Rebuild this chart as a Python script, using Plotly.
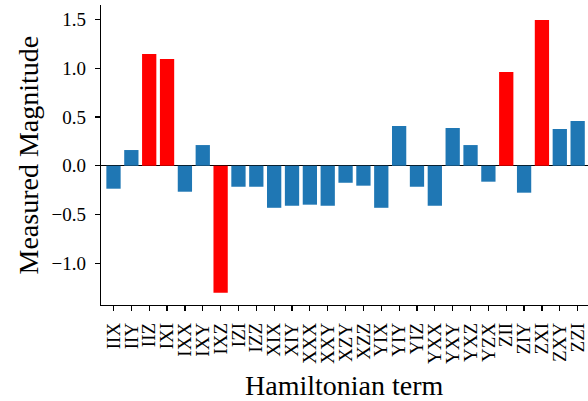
import plotly.graph_objects as go

terms = ["IIX", "IIY", "IIZ", "IXI", "IXX", "IXY", "IXZ", "IZI", "IZZ", "XIX", "XIY",
         "XXX", "XXY", "XZY", "XZZ", "YIX", "YIY", "YIZ", "YXX", "YXY", "YXZ", "YZX",
         "ZII", "ZIY", "ZXI", "ZXY", "ZZI"]
values = [-0.236, 0.161, 1.147, 1.096, -0.267, 0.212, -1.305, -0.216, -0.216, -0.432, -0.411,
          -0.40, -0.411, -0.175, -0.205, -0.432, 0.408, -0.216, -0.411, 0.387, 0.212, -0.164,
          0.962, -0.277, 1.497, 0.377, 0.459]
highlight = ["IIZ", "IXI", "IXZ", "ZII", "ZXI"]
ytick_vals = [-1.0, -0.5, 0.0, 0.5, 1.0, 1.5]
ytick_text = ["\u22121.0", "\u22120.5", "0.0", "0.5", "1.0", "1.5"]

colors = ["#ff0000" if t in highlight else "#1f77b4" for t in terms]
xpos = list(range(len(terms)))

FONT = "Liberation Serif"

fig = go.Figure(go.Bar(x=xpos, y=values, marker=dict(color=colors, line=dict(width=0)),
                       width=0.8, hoverinfo="skip"))

fig.update_layout(
    width=588, height=401,
    margin=dict(l=101, r=0, t=5, b=96, autoexpand=False),
    plot_bgcolor="white", paper_bgcolor="white",
    font=dict(family=FONT, size=19, color="black"),
    showlegend=False,
    hovermode=False,
    annotations=[
        dict(text="Hamiltonian term", xref="paper", yref="paper", x=0.5, y=-0.268,
             xanchor="center", yanchor="middle", showarrow=False,
             font=dict(family=FONT, size=28, color="black")),
        dict(text="Measured Magnitude", xref="paper", yref="paper", x=-0.1489, y=0.5,
             xanchor="center", yanchor="middle", showarrow=False, textangle=-90,
             font=dict(family=FONT, size=28, color="black")),
    ],
)
fig.update_xaxes(
    range=[-0.7, 26.58],
    tickmode="array", tickvals=xpos, ticktext=terms, tickangle=-90,
    ticks="outside", ticklen=5, tickwidth=1.2, tickcolor="black",
    ticklabelstandoff=4,
    showline=True, linecolor="black", linewidth=1.3,
    showgrid=False, zeroline=False,
    tickfont=dict(family=FONT, size=19),
)
fig.update_yaxes(
    range=[-1.43, 1.65],
    tickmode="array", tickvals=ytick_vals, ticktext=ytick_text,
    ticks="outside", ticklen=5, tickwidth=1.2, tickcolor="black",
    ticklabelstandoff=5,
    showline=True, linecolor="black", linewidth=1.3,
    showgrid=False,
    zeroline=True, zerolinecolor="black", zerolinewidth=1.2,
    layer="above traces",
    tickfont=dict(family=FONT, size=19),
)

fig.write_html("out.html", config={"displayModeBar": False, "staticPlot": True},
               post_script="document.body.style.margin='0';document.body.style.overflow='hidden';")
